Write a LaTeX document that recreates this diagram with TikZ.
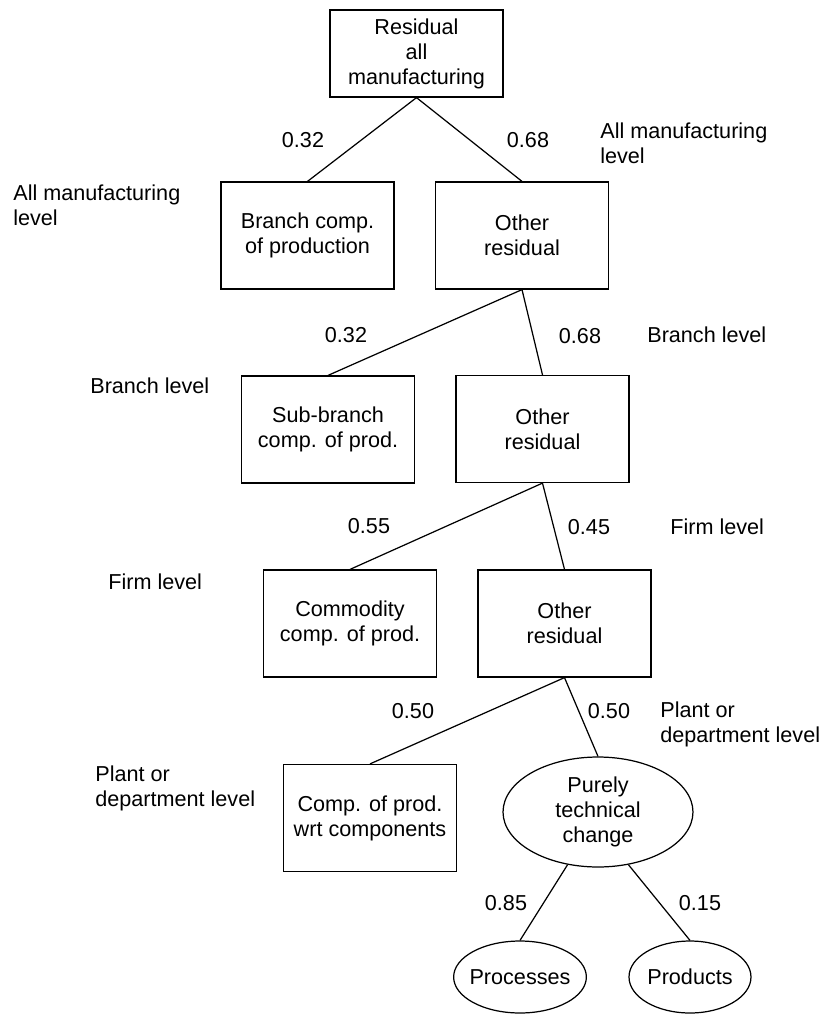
\documentclass[tikz,border=0pt]{standalone}
\usepackage{fontspec}
\setmainfont{Liberation Sans}
\usetikzlibrary{shapes.geometric}
\newcommand{\diafont}{\fontsize{12.3}{14.2}\selectfont}
\tikzset{
  box/.style={draw,line width=.7pt,minimum width=3.46cm,minimum height=2.14cm,align=center,inner sep=2pt},
  oval/.style={draw,ellipse,line width=.7pt,align=center,inner sep=0pt},
  lvl/.style={anchor=west,align=left,inner sep=0pt},
  share/.style={inner sep=0pt},
  branch/.style={line width=.7pt}
}

\begin{document}
\begin{tikzpicture}[x=0.02cm,y=-0.02cm,every node/.style={font=\diafont}]
\useasboundingbox (0,0) rectangle (822,1015);
% tree
\node[box,minimum height=1.74cm] (top) at (416.5,53.5) {Residual\\all\\manufacturing};
\node[box] (brcomp) at (307.5,235.5) {Branch comp.\\of production};
\node[box] (oth1) at (522,235.5) {Other\\residual};
\node[box] (subbr) at (328,429.5) {Sub-branch\\comp. of prod.};
\node[box] (oth2) at (542.5,429) {Other\\residual};
\node[box] (commod) at (350,623.5) {Commodity\\comp. of prod.};
\node[box] (oth3) at (564.5,623.5) {Other\\residual};
\node[box] (wrt) at (370,818) {Comp. of prod.\\wrt components};
\node[oval,minimum width=3.8cm,minimum height=2.2cm] (purely) at (598,812) {Purely\\technical\\change};
\node[oval,inner xsep=-2pt,minimum width=2.5cm,minimum height=1.44cm] (proc) at (520,977) {Processes};
\node[oval,inner xsep=-2pt,minimum width=2.44cm,minimum height=1.44cm] (prod) at (690,977) {Products};
\draw[branch] (brcomp.north) -- (top.south) -- (oth1.north);
\draw[branch] (subbr.north) -- (oth1.south) -- (oth2.north);
\draw[branch] (commod.north) -- (oth2.south) -- (oth3.north);
\draw[branch] (wrt.north) -- (oth3.south) -- (purely.north);
\draw[branch] (proc.north) -- (purely.-120);
\draw[branch] (prod.north) -- (purely.-60);
% shares
\node[share] (s1) at (303,140) {0.32};
\node[share] (s2) at (528,140) {0.68};
\node[share] (s3) at (346,335) {0.32};
\node[share] (s4) at (580,336) {0.68};
\node[share] (s5) at (369,526) {0.55};
\node[share] (s6) at (589,527) {0.45};
\node[share] (s7) at (413,711) {0.50};
\node[share] (s8) at (609,711) {0.50};
\node[share] (s9) at (506,903) {0.85};
\node[share] (s10) at (700,903) {0.15};
% levels
\node[lvl] (allr) at (600,143) {All manufacturing\\level};
\node[lvl] (alll) at (13,205) {All manufacturing\\level};
\node[lvl] (brr) at (647,335) {Branch level};
\node[lvl] (brl) at (90,386) {Branch level};
\node[lvl] (firmr) at (670,527) {Firm level};
\node[lvl] (firml) at (108,582) {Firm level};
\node[lvl] (plantr) at (660,724) {Plant or\\department level};
\node[lvl] (plantl) at (95,788) {Plant or\\department level};
\end{tikzpicture}
\end{document}
